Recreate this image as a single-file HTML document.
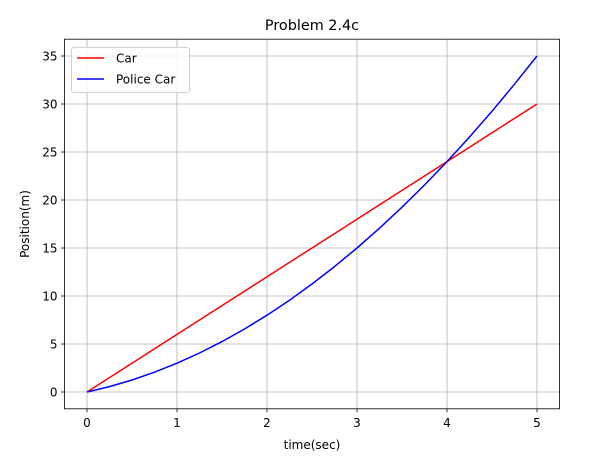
<!DOCTYPE html>
<html><head><meta charset="utf-8"><style>body{margin:0;background:#fff}svg text{font-family:"DejaVu Sans","Liberation Sans",sans-serif;fill:#000}</style></head>
<body>
<svg id="c" width="599" height="457" xmlns="http://www.w3.org/2000/svg"></svg>
<script>
const times=[0,0.25,0.5,0.75,1,1.25,1.5,1.75,2,2.25,2.5,2.75,3,3.25,3.5,3.75,4,4.25,4.5,4.75,5];
const carPos=[0,1.5,3,4.5,6,7.5,9,10.5,12,13.5,15,16.5,18,19.5,21,22.5,24,25.5,27,28.5,30];
const policePos=[0,0.5625,1.25,2.0625,3,4.0625,5.25,6.5625,8,9.5625,11.25,13.0625,15,17.0625,19.25,21.5625,24,26.5625,29.25,32.0625,35];
const xTicks=[0,1,2,3,4,5];
const yTicks=[0,5,10,15,20,25,30,35];
const L=64.5,R=559.5,T=39.2,B=408.8,x0=-0.25,x1=5.25,y0=-1.75,y1=36.75;
const X=v=>L+(v-x0)/(x1-x0)*(R-L), Y=v=>B-(v-y0)/(y1-y0)*(B-T);
const s=document.getElementById('c');const NS='http://www.w3.org/2000/svg';
function mk(t,a,p){const e=document.createElementNS(NS,t);for(const k in a)e.setAttribute(k,a[k]);(p||s).appendChild(e);return e;}
let e;
xTicks.forEach(v=>{e=mk('line',{x1:X(v),x2:X(v),y1:T,y2:B,stroke:'#b0b0b0','stroke-width':0.8});

mk('line',{x1:X(v),x2:X(v),y1:B,y2:B+3.5,stroke:'#000','stroke-width':0.8});
e=mk('text',{x:X(v),y:B+18,'text-anchor':'middle','font-size':12});e.textContent=v;
});
yTicks.forEach(v=>{e=mk('line',{x1:L,x2:R,y1:Y(v),y2:Y(v),stroke:'#b0b0b0','stroke-width':0.8});

mk('line',{x1:L-3.5,x2:L,y1:Y(v),y2:Y(v),stroke:'#000','stroke-width':0.8});
e=mk('text',{x:L-7,y:Y(v)+4.5,'text-anchor':'end','font-size':12});e.textContent=v;
});
function line(d,c,n){e=mk('polyline',{points:times.map((t,i)=>X(t)+','+Y(d[i])).join(' '),fill:'none',stroke:c,'stroke-width':1.5,'stroke-linejoin':'round'});
}
line(carPos,'#ff0000','car-line');line(policePos,'#0000ff','police-car-line');
e=mk('rect',{x:L,y:T,width:R-L,height:B-T,fill:'none',stroke:'#000','stroke-width':0.8});

e=mk('text',{x:(L+R)/2,y:T-9,'text-anchor':'middle','font-size':14.4});e.textContent='Problem 2.4c';

e=mk('text',{x:(L+R)/2,y:449,'text-anchor':'middle','font-size':12});e.textContent='time(sec)';

e=mk('text',{x:0,y:0,'text-anchor':'middle','font-size':12,transform:'translate(29,224) rotate(-90)'});e.textContent='Position(m)';

const g=mk('g',{});
mk('rect',{x:71.5,y:47.5,width:118,height:45,rx:2.5,fill:'#fff','fill-opacity':0.8,stroke:'#d0d0d0'},g);
mk('line',{x1:77,x2:104,y1:58,y2:58,stroke:'#ff0000','stroke-width':1.5},g);
mk('line',{x1:77,x2:104,y1:79,y2:79,stroke:'#0000ff','stroke-width':1.5},g);
e=mk('text',{x:116,y:62.5,'font-size':12},g);e.textContent='Car';

e=mk('text',{x:116,y:83.5,'font-size':12},g);e.textContent='Police Car';

</script>
</body></html>
